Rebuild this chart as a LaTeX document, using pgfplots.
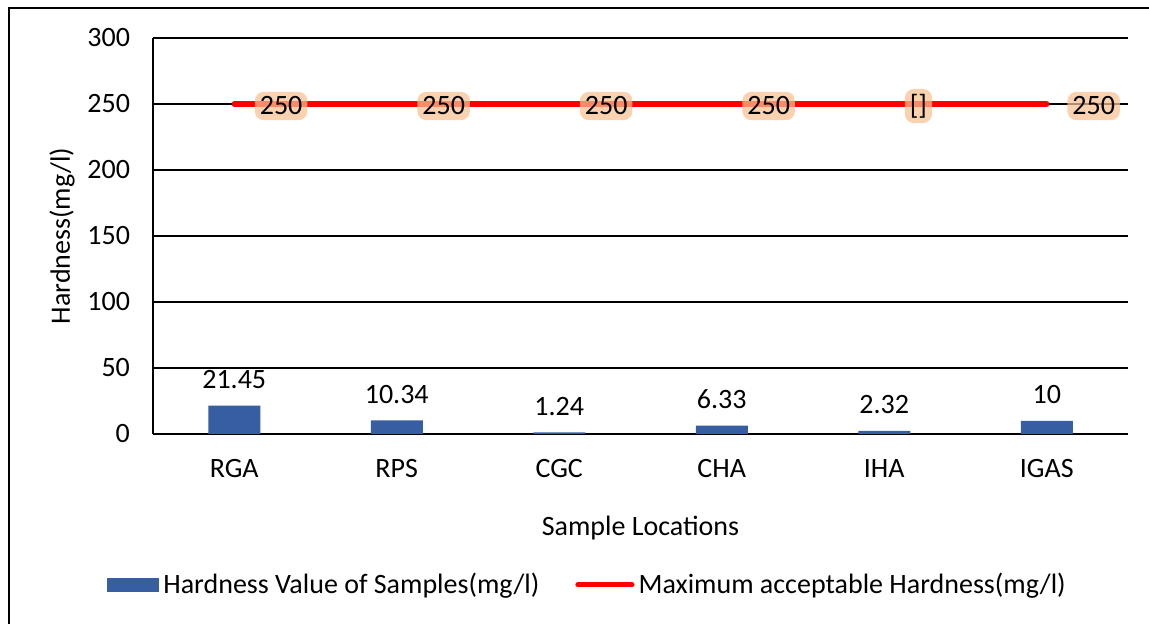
\documentclass[border=0pt]{standalone}
\usepackage{pgfplots}
\pgfplotsset{compat=1.18}
\usepackage{pgfplotstable}
\usepackage{fontspec}
\setmainfont{Carlito}
\definecolor{barblue}{RGB}{55,94,160}
\definecolor{glow}{RGB}{250,192,145}
\pgfplotstableread{
x val
0 21.45
1 10.34
2 1.24
3 6.33
4 2.32
5 10
}\bars
\pgfplotstableread{
x y lab
0 250 250
1 250 250
2 250 250
3 250 250
4 250 []
5 250 250
}\maxline
\begin{document}
\begin{tikzpicture}[x=1pt,y=1pt]
\useasboundingbox (0,0) rectangle (574.5,312);
\draw[line width=1.1pt] (4.5,-5) -- (4.5,308) -- (580,308);
\begin{axis}[
  at={(76.5pt,95pt)}, anchor=south west,
  scale only axis, width=487.5pt, height=198pt,
  xmin=-0.5, xmax=5.5, ymin=0, ymax=300,
  ytick distance=50,
  xtick={0,1,2,3,4,5},
  xticklabels={RGA,RPS,CGC,CHA,IHA,IGAS},
  axis lines=left,
  axis line style={-, line width=1pt},
  major tick length=0pt,
  ymajorgrids, grid style={black, line width=0.9pt},
  font=\fontsize{14}{16}\selectfont,
  /pgf/number format/assume math mode=true,
  yticklabel style={xshift=-8pt},
  xticklabel style={yshift=-9pt},
  xlabel={Sample Locations},
  ylabel={Hardness(mg/l)},
  xlabel style={at={(axis description cs:0.5,-0.237)}, anchor=center},
  ylabel style={at={(axis description cs:-0.0933,0.5)}, anchor=center, rotate=0},
  clip=false,
  legend style={at={(axis description cs:0.4467,-0.381)}, anchor=center, draw=none,
    legend columns=2, /tikz/every even column/.append style={column sep=16pt},
    font=\fontsize{14}{16}\selectfont},
  legend cell align=left,
]
\addplot[ybar, bar width=26pt, fill=barblue, draw=none,
  nodes near coords, point meta=explicit symbolic,
  every node near coord/.append style={anchor=south, yshift=5pt, black, font=\fontsize{14}{16}\selectfont},
  legend image code/.code={\fill[barblue] (-2pt,-3.5pt) rectangle (24pt,3.5pt);}
] table[x=x, y=val, meta=val] {\bars};
\addlegendentry{Hardness Value of Samples(mg/l)}
\addplot[red, line width=2.6pt, line cap=round, mark=none,
  nodes near coords, point meta=explicit symbolic,
  every node near coord/.append style={anchor=west, xshift=9pt, yshift=-1pt, black,
    fill=glow, fill opacity=0.72, text opacity=1, rounded corners=4.5pt, inner sep=2.5pt,
    font=\fontsize{14}{16}\selectfont},
  legend image code/.code={\draw[red, line width=2.6pt, line cap=round] (0pt,0pt) -- (27pt,0pt);}
] table[x=x, y=y, meta=lab] {\maxline};
\addlegendentry{Maximum acceptable Hardness(mg/l)}
\end{axis}
\end{tikzpicture}
\end{document}
